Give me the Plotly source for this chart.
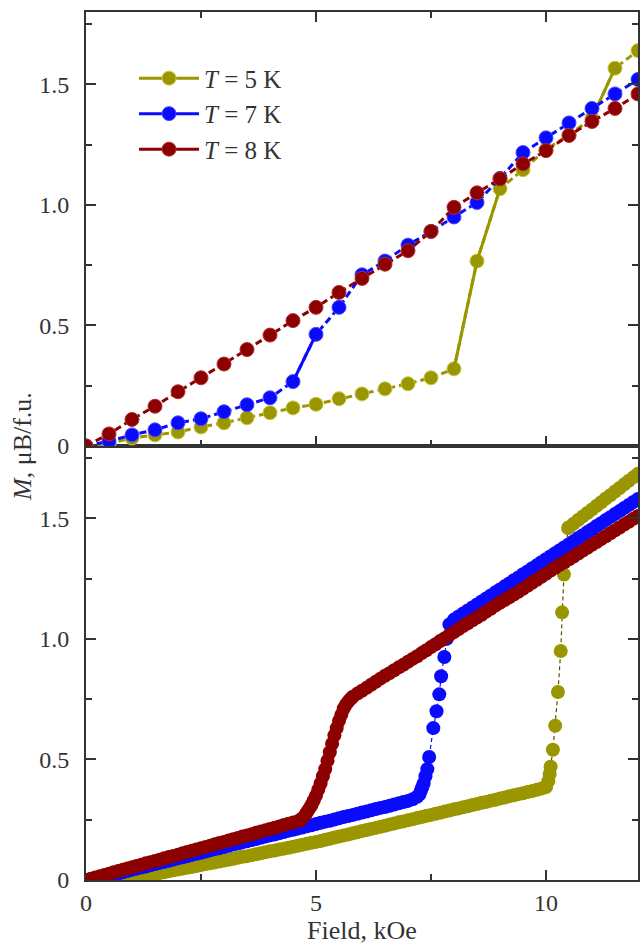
import plotly.graph_objects as go

# ---------------- data ----------------
# top panel (coarse field steps)
field_top = [0.0, 0.5, 1.0, 1.5, 2.0, 2.5, 3.0, 3.5, 4.0, 4.5, 5.0, 5.5, 6.0,
             6.5, 7.0, 7.5, 8.0, 8.5, 9.0, 9.5, 10.0, 10.5, 11.0, 11.5, 12.0]
m5_top = [0.0, 0.01, 0.033, 0.046, 0.058, 0.079, 0.096, 0.117, 0.138, 0.158, 0.173, 0.196, 0.216,
          0.237, 0.258, 0.283, 0.32, 0.767, 1.067, 1.146, 1.23, 1.29, 1.36, 1.567, 1.64]
m7_top = [0.0, 0.02, 0.046, 0.067, 0.096, 0.113, 0.142, 0.171, 0.20, 0.267, 0.463, 0.575, 0.71,
          0.767, 0.833, 0.89, 0.95, 1.01, 1.11, 1.217, 1.278, 1.34, 1.40, 1.46, 1.52]
m8_top = [0.0, 0.05, 0.11, 0.165, 0.225, 0.283, 0.34, 0.40, 0.46, 0.52, 0.575, 0.637, 0.695,
          0.754, 0.81, 0.89, 0.99, 1.05, 1.108, 1.17, 1.225, 1.288, 1.346, 1.40, 1.46]

# bottom panel (dense field sweep), T = 5 K
field5_bot = [0.0, 0.1, 0.2, 0.3, 0.4, 0.5, 0.6, 0.7, 0.8, 0.9, 1.0, 1.1, 1.2, 1.3, 1.4, 1.5,
              1.6, 1.7, 1.8, 1.9, 2.0, 2.1, 2.2, 2.3, 2.4, 2.5, 2.6, 2.7, 2.8, 2.9, 3.0, 3.1,
              3.2, 3.3, 3.4, 3.5, 3.6, 3.7, 3.8, 3.9, 4.0, 4.1, 4.2, 4.3, 4.4, 4.5, 4.6, 4.7,
              4.8, 4.9, 5.0, 5.1, 5.2, 5.3, 5.4, 5.5, 5.6, 5.7, 5.8, 5.9, 6.0, 6.1, 6.2, 6.3,
              6.4, 6.5, 6.6, 6.7, 6.8, 6.9, 7.0, 7.1, 7.2, 7.3, 7.4, 7.5, 7.6, 7.7, 7.8, 7.9,
              8.0, 8.1, 8.2, 8.3, 8.4, 8.5, 8.6, 8.7, 8.8, 8.9, 9.0, 9.1, 9.2, 9.3, 9.4, 9.5,
              9.6, 9.7, 9.8, 9.9, 10.0, 10.05, 10.08, 10.1, 10.15, 10.2, 10.26, 10.32, 10.35,
              10.39, 10.48, 10.5, 10.6, 10.7, 10.8, 10.9, 11.0, 11.1, 11.2, 11.3, 11.4, 11.5,
              11.6, 11.7, 11.8, 11.9, 12.0]
m5_bot = [0.0, 0.0, 0.0, 0.0, 0.0, 0.0, 0.0, 0.001, 0.002, 0.005, 0.008, 0.011, 0.015, 0.018,
          0.022, 0.025, 0.029, 0.032, 0.036, 0.04, 0.044, 0.047, 0.051, 0.054, 0.058, 0.062,
          0.066, 0.069, 0.073, 0.077, 0.081, 0.084, 0.088, 0.092, 0.096, 0.099, 0.103, 0.107,
          0.111, 0.115, 0.119, 0.122, 0.126, 0.13, 0.134, 0.138, 0.142, 0.146, 0.15, 0.154,
          0.158, 0.162, 0.167, 0.171, 0.176, 0.18, 0.185, 0.189, 0.194, 0.198, 0.203, 0.207,
          0.212, 0.216, 0.221, 0.225, 0.23, 0.234, 0.239, 0.243, 0.248, 0.252, 0.257, 0.261,
          0.266, 0.27, 0.275, 0.279, 0.284, 0.288, 0.293, 0.297, 0.302, 0.306, 0.311, 0.315,
          0.32, 0.324, 0.329, 0.333, 0.338, 0.342, 0.347, 0.351, 0.356, 0.36, 0.365, 0.369,
          0.374, 0.379, 0.385, 0.41, 0.44, 0.47, 0.54, 0.64, 0.78, 0.95, 1.11,
          1.267, 1.46, 1.463, 1.478, 1.493, 1.508, 1.522, 1.537, 1.552, 1.567, 1.582, 1.596,
          1.611, 1.626, 1.641, 1.656, 1.67, 1.685]

# T = 7 K
field7_bot = [0.0, 0.1, 0.2, 0.3, 0.4, 0.5, 0.6, 0.7, 0.8, 0.9, 1.0, 1.1, 1.2, 1.3, 1.4, 1.5,
              1.6, 1.7, 1.8, 1.9, 2.0, 2.1, 2.2, 2.3, 2.4, 2.5, 2.6, 2.7, 2.8, 2.9, 3.0, 3.1,
              3.2, 3.3, 3.4, 3.5, 3.6, 3.7, 3.8, 3.9, 4.0, 4.1, 4.2, 4.3, 4.4, 4.5, 4.6, 4.7,
              4.8, 4.9, 5.0, 5.1, 5.2, 5.3, 5.4, 5.5, 5.6, 5.7, 5.8, 5.9, 6.0, 6.1, 6.2, 6.3,
              6.4, 6.5, 6.6, 6.7, 6.8, 6.9, 7.0, 7.1, 7.2, 7.25, 7.28, 7.31, 7.34, 7.38, 7.42,
              7.46, 7.55, 7.62, 7.68, 7.72, 7.79, 7.84, 7.9, 8.0, 8.1, 8.2, 8.3, 8.4, 8.5, 8.6,
              8.7, 8.8, 8.9, 9.0, 9.1, 9.2, 9.3, 9.4, 9.5, 9.6, 9.7, 9.8, 9.9, 10.0, 10.1, 10.2,
              10.3, 10.4, 10.5, 10.6, 10.7, 10.8, 10.9, 11.0, 11.1, 11.2, 11.3, 11.4, 11.5,
              11.6, 11.7, 11.8, 11.9, 12.0]
m7_bot = [0.0, 0.002, 0.005, 0.008, 0.012, 0.017, 0.022, 0.027, 0.032, 0.037, 0.042, 0.047,
          0.052, 0.056, 0.061, 0.066, 0.071, 0.075, 0.08, 0.085, 0.09, 0.094, 0.099, 0.104,
          0.109, 0.113, 0.118, 0.123, 0.128, 0.132, 0.137, 0.142, 0.147, 0.151, 0.156, 0.161,
          0.166, 0.17, 0.175, 0.18, 0.185, 0.189, 0.194, 0.199, 0.204, 0.208, 0.213, 0.218,
          0.223, 0.227, 0.232, 0.237, 0.242, 0.246, 0.251, 0.256, 0.261, 0.265, 0.27, 0.275,
          0.28, 0.284, 0.289, 0.294, 0.299, 0.303, 0.308, 0.313, 0.318, 0.323, 0.328, 0.335,
          0.345, 0.355, 0.37, 0.385, 0.40, 0.43, 0.46, 0.51, 0.63, 0.70, 0.77, 0.845, 0.925,
          1.0, 1.06, 1.08, 1.093, 1.105, 1.118, 1.13, 1.143, 1.155, 1.168, 1.18, 1.193, 1.205,
          1.218, 1.23, 1.243, 1.255, 1.268, 1.28, 1.293, 1.305, 1.318, 1.33, 1.343, 1.355,
          1.368, 1.38, 1.393, 1.405, 1.418, 1.43, 1.443, 1.455, 1.468, 1.48, 1.493, 1.505,
          1.518, 1.53, 1.543, 1.555, 1.568, 1.58]

# T = 8 K
field8_bot = [0.0, 0.1, 0.2, 0.3, 0.4, 0.5, 0.6, 0.7, 0.8, 0.9, 1.0, 1.1, 1.2, 1.3, 1.4, 1.5,
              1.6, 1.7, 1.8, 1.9, 2.0, 2.1, 2.2, 2.3, 2.4, 2.5, 2.6, 2.7, 2.8, 2.9, 3.0, 3.1,
              3.2, 3.3, 3.4, 3.5, 3.6, 3.7, 3.8, 3.9, 4.0, 4.1, 4.2, 4.3, 4.4, 4.5, 4.6, 4.65,
              4.7, 4.75, 4.8, 4.85, 4.9, 4.95, 5.0, 5.05, 5.1, 5.15, 5.2, 5.25, 5.3, 5.35, 5.4,
              5.45, 5.5, 5.55, 5.6, 5.65, 5.7, 5.75, 5.8, 5.9, 6.0, 6.1, 6.2, 6.3, 6.4, 6.5,
              6.6, 6.7, 6.8, 6.9, 7.0, 7.1, 7.2, 7.3, 7.4, 7.5, 7.6, 7.7, 7.8, 7.9, 8.0, 8.1,
              8.2, 8.3, 8.4, 8.5, 8.6, 8.7, 8.8, 8.9, 9.0, 9.1, 9.2, 9.3, 9.4, 9.5, 9.6, 9.7,
              9.8, 9.9, 10.0, 10.1, 10.2, 10.3, 10.4, 10.5, 10.6, 10.7, 10.8, 10.9, 11.0, 11.1,
              11.2, 11.3, 11.4, 11.5, 11.6, 11.7, 11.8, 11.9, 12.0]
m8_bot = [0.0, 0.005, 0.01, 0.016, 0.021, 0.026, 0.032, 0.037, 0.042, 0.048, 0.053, 0.058,
          0.063, 0.069, 0.074, 0.079, 0.084, 0.09, 0.095, 0.1, 0.105, 0.111, 0.116, 0.121,
          0.127, 0.132, 0.137, 0.142, 0.148, 0.153, 0.158, 0.164, 0.169, 0.174, 0.18, 0.185,
          0.19, 0.196, 0.201, 0.206, 0.212, 0.217, 0.222, 0.228, 0.233, 0.238, 0.243, 0.248,
          0.255, 0.265, 0.28, 0.295, 0.31, 0.33, 0.35, 0.375, 0.40, 0.43, 0.46, 0.495, 0.53,
          0.565, 0.60, 0.63, 0.66, 0.685, 0.71, 0.727, 0.74, 0.751, 0.76, 0.773, 0.785, 0.797,
          0.81, 0.822, 0.835, 0.847, 0.858, 0.87, 0.882, 0.893, 0.905, 0.917, 0.928, 0.941,
          0.953, 0.966, 0.978, 0.991, 1.003, 1.016, 1.028, 1.041, 1.053, 1.065, 1.077, 1.089,
          1.1, 1.113, 1.125, 1.138, 1.15, 1.161, 1.172, 1.184, 1.195, 1.208, 1.22, 1.233,
          1.245, 1.258, 1.27, 1.283, 1.295, 1.307, 1.318, 1.33, 1.342, 1.354, 1.366, 1.378,
          1.39, 1.402, 1.414, 1.426, 1.438, 1.45, 1.462, 1.474, 1.486, 1.498, 1.51]

labels = ["<i>T</i> = 5 K", "<i>T</i> = 7 K", "<i>T</i> = 8 K"]
y_ticks = [0, 0.5, 1.0, 1.5]
y_ticktext = ["0", "0.5", "1.0", "1.5"]
y_minor = [0.25, 0.75, 1.25, 1.75]
x_ticks = [0, 5, 10]
x_minor = [2.5, 7.5]

# ---------------- styles ----------------
C5, C7, C8 = "#9a9600", "#0a0aff", "#8c0000"
E5, E7, E8 = "#c8c640", "#4a4aff", "#b03030"
FONT = "Liberation Serif, Times New Roman, serif"
TXT = "#333333"
AX = "#333333"

fig = go.Figure()

# top panel: dashed lines + markers
top_sets = [(m5_top, C5, E5), (m7_top, C7, E7), (m8_top, C8, E8)]
for (m, c, e) in top_sets:
    fig.add_trace(go.Scatter(x=field_top, y=m, mode="lines+markers", xaxis="x2", yaxis="y2",
                             line=dict(color=c, width=3, dash="7px,4px"),
                             marker=dict(size=14, color=c, line=dict(color=e, width=1)),
                             showlegend=False, hoverinfo="skip"))
    # solid connecting segments across the jumps
    if m is m5_top:
        for (a, b) in [(16, 19), (22, 24)]:
            fig.add_trace(go.Scatter(x=field_top[a:b], y=m[a:b], mode="lines", xaxis="x2", yaxis="y2",
                                     line=dict(color=c, width=3), showlegend=False, hoverinfo="skip"))
    if m is m7_top:
        fig.add_trace(go.Scatter(x=field_top[9:11], y=m[9:11], mode="lines", xaxis="x2", yaxis="y2",
                                 line=dict(color=c, width=3), showlegend=False, hoverinfo="skip"))

# bottom panel: dense markers forming solid bands
bot_sets = [(field5_bot, m5_bot, C5), (field7_bot, m7_bot, C7), (field8_bot, m8_bot, C8)]
for (f, m, c) in bot_sets:
    fig.add_trace(go.Scatter(x=f, y=m, mode="lines+markers", xaxis="x", yaxis="y",
                             line=dict(color="#555500" if c == C5 else c, width=1.2, dash="4px,3px"),
                             marker=dict(size=14, color=c, line=dict(width=0)),
                             showlegend=False, hoverinfo="skip"))

# legend proxies (solid line + marker)
for lab, c, e in zip(labels, [C5, C7, C8], [E5, E7, E8]):
    fig.add_trace(go.Scatter(x=[None], y=[None], mode="lines+markers", name=lab, xaxis="x2", yaxis="y2",
                             legendgroup=lab,
                             line=dict(color=c, width=3),
                             marker=dict(size=14, color=c, line=dict(color=e, width=1))))

xcommon = dict(range=[0, 12], tickvals=x_ticks, ticks="inside", ticklen=10, tickwidth=1.5,
               tickcolor=AX, showline=True, linewidth=2, linecolor=AX, showgrid=False,
               zeroline=False, automargin=False,
               minor=dict(tickvals=x_minor, ticks="inside", ticklen=6, tickwidth=1.5,
                          tickcolor=AX, showgrid=False),
               tickfont=dict(family=FONT, size=24, color=TXT))
ycommon = dict(range=[0, 1.8], tickvals=y_ticks, ticktext=y_ticktext, ticks="inside", ticklen=10,
               tickwidth=1.5, tickcolor=AX, showline=True, linewidth=2, linecolor=AX,
               showgrid=False, zeroline=False, mirror="ticks", ticklabelstandoff=10,
               automargin=False,
               minor=dict(tickvals=y_minor, ticks="inside", ticklen=6,
                          tickwidth=1.5, tickcolor=AX, showgrid=False),
               tickfont=dict(family=FONT, size=24, color=TXT))

fig.update_layout(
    width=640, height=945, autosize=False,
    margin=dict(l=86, r=2, t=12, b=65),
    paper_bgcolor="white", plot_bgcolor="white",
    xaxis=dict(domain=[0, 1], anchor="y", mirror=True, ticklabelstandoff=0,
               title=dict(text="Field, kOe", font=dict(family=FONT, size=26, color=TXT), standoff=14),
               **xcommon),
    xaxis2=dict(domain=[0, 1], anchor="y2", matches="x", mirror="ticks", showticklabels=False,
                **xcommon),
    yaxis=dict(domain=[0, 0.5], anchor="x", **ycommon),
    yaxis2=dict(domain=[0.5, 1], anchor="x2", **ycommon),
    legend=dict(x=0.087, y=0.95, xanchor="left", yanchor="top", bgcolor="rgba(0,0,0,0)",
                font=dict(family=FONT, size=25, color=TXT), tracegroupgap=0, itemwidth=60),
    annotations=[dict(text="<i>M</i>, μB/f.u.", xref="paper", yref="paper", x=-0.116, y=0.5,
                      xanchor="center", yanchor="middle", textangle=-90, showarrow=False,
                      font=dict(family=FONT, size=26, color=TXT))],
)

fig.write_html("out.html")
